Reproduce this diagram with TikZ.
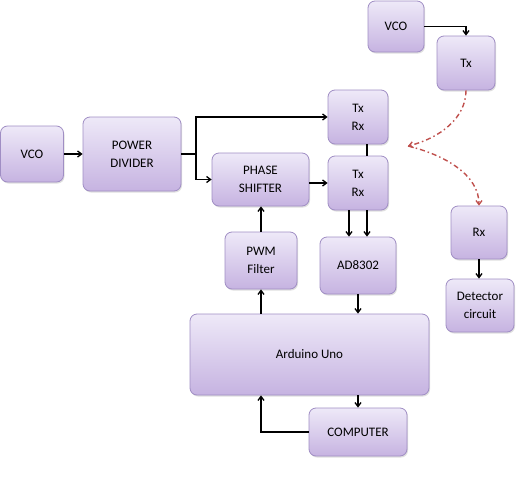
\documentclass[tikz,border=0pt]{standalone}
\usepackage{fontspec}
\setmainfont{Carlito}
\usetikzlibrary{arrows.meta,shadows}
\definecolor{boxtop}{HTML}{EEE9F8}
\definecolor{boxbot}{HTML}{C6B3E1}
\definecolor{boxline}{HTML}{A08EC4}
\definecolor{reddash}{HTML}{C0504D}
\tikzset{
  bx/.style={draw=boxline, line width=0.8pt, rounded corners=7pt, top color=boxtop, bottom color=boxbot,
    align=center, inner sep=0pt, font=\fontsize{13}{18}\selectfont,
    drop shadow={shadow xshift=1pt, shadow yshift=-1.5pt, opacity=0.25, fill=gray}},
  arr/.style={line width=1.3pt, -{Straight Barb[length=4pt,width=6pt,line width=1.3pt]}},
  ln/.style={line width=1.3pt},
  rdash/.style={draw=reddash, line width=1.4pt, dash pattern=on 5pt off 3pt on 1.5pt off 3pt,
    -{Straight Barb[length=4pt,width=6pt,line width=1.3pt]}}
}
\begin{document}
\begin{tikzpicture}[x=1pt,y=-1pt]
\useasboundingbox[fill=white] (0,0) rectangle (520,488);
\node[bx, minimum width=63pt, minimum height=56pt] (vco1) at (32,154) {VCO};
\node[bx, minimum width=98pt, minimum height=74pt] (pd) at (132,154) {POWER\\DIVIDER};
\node[bx, minimum width=97pt, minimum height=53pt] (ps) at (260.5,179.5) {PHASE\\SHIFTER};
\node[bx, minimum width=60pt, minimum height=54pt] (trx1) at (358,117) {Tx\\Rx};
\node[bx, minimum width=60pt, minimum height=54pt] (trx2) at (358,183) {Tx\\Rx};
\node[bx, minimum width=56pt, minimum height=51pt] (vco2) at (396,26.5) {VCO};
\node[bx, minimum width=58pt, minimum height=54pt] (tx) at (466,63) {Tx};
\node[bx, minimum width=56pt, minimum height=53pt] (rx) at (479,232.5) {Rx};
\node[bx, minimum width=68pt, minimum height=53pt] (det) at (480,305.5) {Detector\\circuit};
\node[bx, minimum width=72pt, minimum height=57pt] (pwm) at (261,260.5) {PWM\\Filter};
\node[bx, minimum width=76pt, minimum height=57pt] (ad) at (358,265.5) {AD8302};
\node[bx, minimum width=239pt, minimum height=81pt] (ard) at (309.5,354.5) {Arduino Uno};
\node[bx, minimum width=98pt, minimum height=48pt] (comp) at (358,432) {COMPUTER};

\coordinate (split) at (196,154);
\coordinate (tgt) at (408,146);

\draw[arr] (vco1.east) -- (pd.west);
\draw[ln] (pd.east) -- (split);
\draw[arr] (split) |- (trx1.west);
\draw[arr] (split) |- (ps.west);
\draw[arr] (ps.east |- trx2.west) -- (trx2.west);
\draw[ln] ([xshift=9pt]trx1.south) -- ([xshift=9pt]trx2.north);
\draw[arr] ([xshift=-9pt]trx2.south) -- ([xshift=-9pt]ad.north);
\draw[arr] ([xshift=9pt]trx2.south) -- ([xshift=9pt]ad.north);
\draw[arr] (pwm.north) -- (pwm.north |- ps.south);
\draw[arr] (pwm.south |- ard.north) -- (pwm.south);
\draw[arr] (ad.south) -- (ad.south |- ard.north);
\draw[arr] (comp.north |- ard.south) -- (comp.north);
\draw[arr] (comp.west) -| (pwm.south |- ard.south);
\draw[arr] (vco2.east) -| (tx.north);
\draw[arr] (rx.south) -- (rx.south |- det.north);

\draw[rdash] (tx.south) .. controls (466,118) and (440,138) .. (tgt);
\draw[rdash] (tgt) .. controls (445,155) and (479,175) .. (rx.north);
\end{tikzpicture}
\end{document}
